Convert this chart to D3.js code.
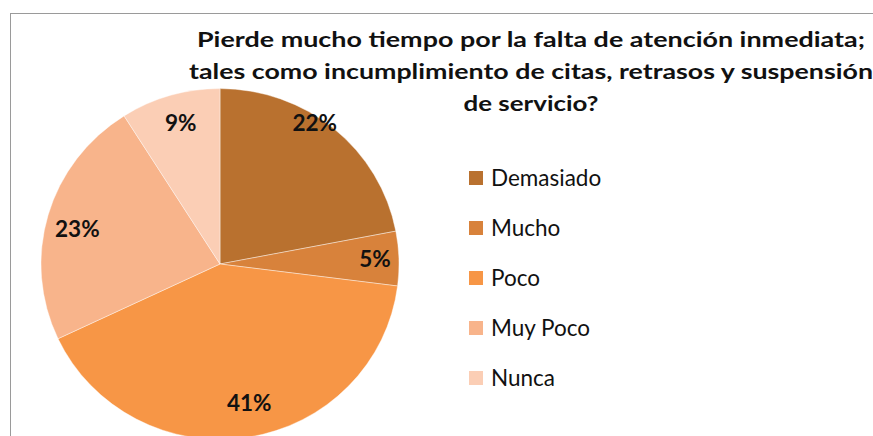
<!DOCTYPE html>
<html><head><meta charset="utf-8">
<script src="https://cdn.jsdelivr.net/npm/d3@7"></script>
<style>html,body{margin:0;padding:0;background:#fff;overflow:hidden}</style>
</head><body>
<svg id="c" width="873" height="436"></svg>
<script>
const categories = ["Demasiado", "Mucho", "Poco", "Muy Poco", "Nunca"];
const values = [22, 5, 41, 23, 9];
const colors = ["#B9712F", "#D8823B", "#F79646", "#F8B48B", "#FBCEB5"];
const titleLines = [
  "Pierde mucho tiempo por la falta de atención inmediata;",
  "tales como incumplimiento de citas, retrasos y suspensión",
  "de servicio?"
];

const svg = d3.select("#c");
// chart frame
svg.append("rect").attr("x", 10.5).attr("y", 13.5).attr("width", 900).attr("height", 500)
  .attr("fill", "#fff").attr("stroke", "#9a9a9a").attr("stroke-width", 1);

const cx = 220, cy = 264, R = 179;
const g = svg.append("g").attr("transform", `translate(${cx},${cy}) scale(1,0.98)`);
const pie = d3.pie().sort(null).value(d => d)(values);
const arc = d3.arc().innerRadius(0).outerRadius(R);
g.selectAll("path").data(pie).join("path")
  .attr("d", arc).attr("fill", (d, i) => colors[i])
  .attr("stroke", "#fff").attr("stroke-width", 0.7).attr("stroke-opacity", 0.6);

// data labels (Excel-like inside-end placement)
const labelPlace = [[170, -0.10], [155, 0], [142, -0.05], [147, -0.04], [146, 0.01]];
const lg = svg.append("g").attr("transform", `translate(${cx},${cy})`);
lg.selectAll("text").data(pie).join("text")
  .attr("x", (d, i) => labelPlace[i][0] * Math.sin((d.startAngle + d.endAngle) / 2 + labelPlace[i][1]))
  .attr("y", (d, i) => -labelPlace[i][0] * Math.cos((d.startAngle + d.endAngle) / 2 + labelPlace[i][1]) + 8)
  .attr("text-anchor", "middle")
  .attr("font-family", "Lato, 'Open Sans', sans-serif").attr("font-weight", "bold")
  .attr("font-size", 22.5).attr("fill", "#111")
  .text(d => d.value + "%");

// title
const titleW = [668, 684, 135];
svg.append("g").selectAll("text").data(titleLines).join("text")
  .attr("x", 531).attr("y", (d, i) => 47 + i * 32)
  .attr("text-anchor", "middle")
  .attr("font-family", "Lato, 'Open Sans', sans-serif").attr("font-weight", "bold")
  .attr("font-size", 21).attr("fill", "#111")
  .attr("textLength", (d, i) => titleW[i]).attr("lengthAdjust", "spacingAndGlyphs")
  .text(d => d);

// legend
const legY = d3.scalePoint().domain(categories).range([178, 378]);
const leg = svg.append("g");
leg.selectAll("rect").data(categories).join("rect")
  .attr("x", 469).attr("y", d => legY(d) - 7).attr("width", 14).attr("height", 14)
  .attr("fill", (d, i) => colors[i]);
leg.selectAll("text").data(categories).join("text")
  .attr("x", 491).attr("y", d => legY(d) + 7.5)
  .attr("font-family", "Lato, 'Open Sans', sans-serif").attr("font-size", 22.5).attr("fill", "#111")
  .text(d => d);
</script>
</body></html>
